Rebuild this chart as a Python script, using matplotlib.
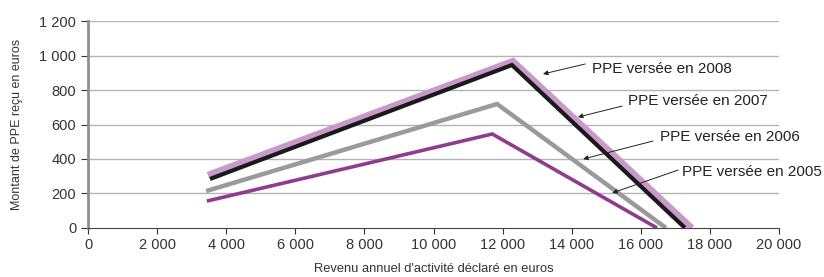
import matplotlib
matplotlib.use("Agg")
import matplotlib.pyplot as plt
from matplotlib.ticker import FuncFormatter

plt.rcParams["font.family"] = ["Liberation Sans", "DejaVu Sans"]

# ── Data ──────────────────────────────────────────────────────────────────────
years = ["2005", "2006", "2007", "2008"]
income = {
    "2005": [3440, 11700, 16470],
    "2006": [3420, 11840, 16730],
    "2007": [3530, 12270, 17280],
    "2008": [3470, 12300, 17480],
}
ppe = {
    "2005": [156, 545, 0],
    "2006": [214, 719, 0],
    "2007": [284, 945, 0],
    "2008": [307, 968, 0],
}
colors = {"2005": "#8e3c8e", "2006": "#9a9a9a", "2007": "#1a1a1a", "2008": "#c99ac9"}
widths = {"2005": 2.6, "2006": 3.2, "2007": 3.0, "2008": 4.6}

# label text anchor (x, y) and arrow head (x, y) in data units
label_pos = {
    "2008": (14600, 922), "2007": (15640, 736),
    "2006": (16560, 528), "2005": (17200, 325),
}
arrow_tail = {
    "2008": (14390, 951), "2007": (15460, 707),
    "2006": (16350, 504), "2005": (17080, 336),
}
arrow_head = {
    "2008": (13170, 893), "2007": (14180, 643),
    "2006": (14330, 400), "2005": (15170, 203),
}

# ── Figure ────────────────────────────────────────────────────────────────────
fig = plt.figure(figsize=(8.24, 2.77), dpi=100)
ax = fig.add_axes([0.1068, 0.177, 0.8386, 0.747])

for y in range(200, 1201, 200):
    ax.axhline(y, color="#b4b4b4", lw=1.0, zorder=0)

for yr in ["2008", "2007", "2006", "2005"]:
    ax.plot(income[yr], ppe[yr], color=colors[yr], lw=widths[yr],
            solid_joinstyle="miter", solid_capstyle="butt", zorder=2)

for yr in years:
    ax.annotate("", xy=arrow_head[yr], xytext=arrow_tail[yr],
                arrowprops=dict(arrowstyle="-|>", color="#222222", lw=0.7,
                                mutation_scale=7, shrinkA=0, shrinkB=0))
    ax.text(label_pos[yr][0], label_pos[yr][1], f"PPE versée en {yr}",
            fontsize=11, color="#222222", va="center", ha="left")

ax.set_xlim(0, 20000)
ax.set_ylim(0, 1200)
ax.set_xticks(range(0, 20001, 2000))
ax.set_yticks(range(0, 1201, 200))
fmt = FuncFormatter(lambda v, p: f"{int(v):,}".replace(",", " "))
ax.xaxis.set_major_formatter(fmt)
ax.yaxis.set_major_formatter(fmt)
ax.tick_params(axis="both", labelsize=10.5, colors="#333333", length=4, width=0.8)
ax.tick_params(axis="y", length=5)

for s in ["top", "right"]:
    ax.spines[s].set_visible(False)
ax.spines["left"].set_color("#8a8f99")
ax.spines["left"].set_linewidth(2)
ax.spines["bottom"].set_color("#444444")
ax.spines["bottom"].set_linewidth(0.8)

ax.set_xlabel("Revenu annuel d'activité déclaré en euros", fontsize=9.3,
              color="#333333", labelpad=8)
ax.set_ylabel("Montant de PPE reçu en euros", fontsize=9, color="#333333",
              labelpad=12)

fig.savefig("out.png", dpi=100)
